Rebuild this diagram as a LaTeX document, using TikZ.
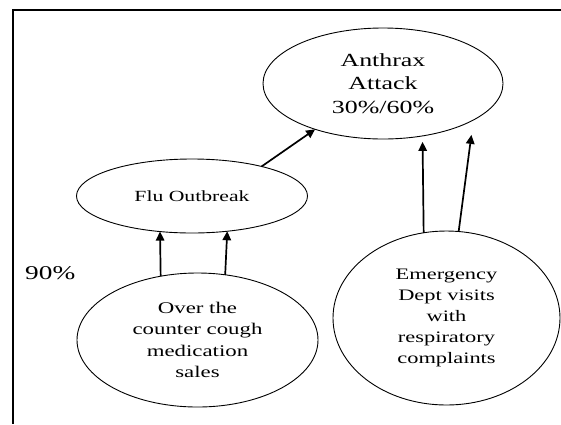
\documentclass[tikz,border=0pt]{standalone}
\usepackage{fontspec}
\setmainfont{Liberation Serif}[FakeStretch=1.4]
\usetikzlibrary{shapes.geometric,arrows.meta}
\begin{document}
\begin{tikzpicture}[x=1pt,y=-1pt,
  oval/.style={ellipse,draw,line width=0.9pt,inner sep=0pt,outer sep=0pt,align=center},
  link/.style={line width=1.7pt,-{Triangle[length=9pt,width=8.5pt]}},
]
\useasboundingbox (0,0) rectangle (561,424);
\coordinate (fa) at (561,10);
\coordinate (fc) at (13,10);
\coordinate (fb) at (13,424);
\draw[line width=2pt] (fa) -- (fc) -- (fb);

\node[oval,minimum width=240pt,minimum height=111pt,font=\fontsize{18.5}{23.5}\selectfont] (anthrax) at (383,83.5) {Anthrax\\Attack\\30\%/60\%};
\node[oval,minimum width=231pt,minimum height=74pt,font=\fontsize{15.5}{18}\selectfont] (flu) at (192,196) {Flu Outbreak};
\node[oval,minimum width=241pt,minimum height=134pt,font=\fontsize{16.3}{21.5}\selectfont] (otc) at (197.5,340) {Over the\\counter cough\\medication\\sales};
\node[oval,minimum width=227pt,minimum height=174pt,font=\fontsize{16}{21}\selectfont] (ed) at (446.5,318) {Emergency\\Dept visits\\with\\respiratory\\complaints};
\node[font=\fontsize{19.5}{22}\selectfont,anchor=west,inner sep=0pt] (pct) at (25,273) {90\%};

\draw[link] (flu.23) -- (anthrax.214);
\draw[link] (otc.120) -- (flu.228);
\draw[link] (otc.67) -- (flu.315);
\draw[link,shorten >=6pt] (ed.105) -- (anthrax.307);
\draw[link,shorten >=15pt] (ed.82) -- (anthrax.338);
\end{tikzpicture}
\end{document}
